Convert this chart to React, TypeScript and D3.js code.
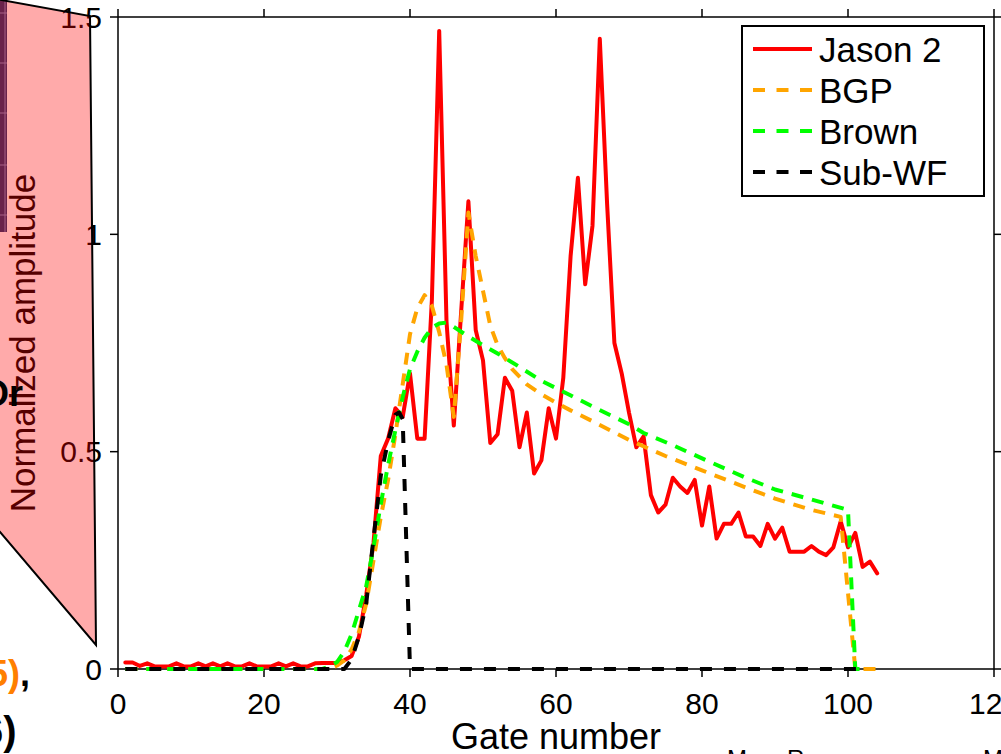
import React from "react";
import * as d3 from "d3";

// ---------- data ----------
const jasonGates = d3.range(1, 105);
const jasonValues = [
  0.015, 0.015, 0.007, 0.013, 0.006, 0.006, 0.006, 0.013, 0.006, 0.006,
  0.013, 0.006, 0.013, 0.006, 0.013, 0.006, 0.006, 0.013, 0.006, 0.006,
  0.006, 0.013, 0.006, 0.013, 0.006, 0.006, 0.013, 0.014, 0.014, 0.014,
  0.02, 0.03, 0.074, 0.17, 0.29, 0.49, 0.53, 0.6, 0.58, 0.68,
  0.53, 0.53, 0.85, 1.468, 0.8, 0.56, 0.82, 1.076, 0.78, 0.71,
  0.52, 0.54, 0.67, 0.64, 0.51, 0.59, 0.45, 0.48, 0.6, 0.53,
  0.67, 0.95, 1.13, 0.885, 1.02, 1.45, 1.07, 0.75, 0.68, 0.59,
  0.51, 0.535, 0.4, 0.36, 0.378, 0.44, 0.42, 0.405, 0.435, 0.33,
  0.42, 0.3, 0.334, 0.334, 0.36, 0.305, 0.305, 0.283, 0.334, 0.3,
  0.325, 0.27, 0.27, 0.27, 0.283, 0.27, 0.262, 0.28, 0.34, 0.28,
  0.313, 0.235, 0.247, 0.22,
];

const bgpGates = [1, 29, 30, 31, 32, 33, 34, 35, 36, 37, 38, 39, 40, 41, 42, 43, 44, 45, 46, 47, 48, 49, 50, 51, 52, 53, 54, 56, 58, 60, 62, 65, 70, 75, 80, 85, 90, 95, 99, 101, 103.8];
const bgpValues = [0, 0, 0.008, 0.02, 0.045, 0.085, 0.15, 0.25, 0.35, 0.435, 0.54, 0.655, 0.77, 0.83, 0.86, 0.835, 0.775, 0.7, 0.58, 0.8, 1.05, 0.95, 0.87, 0.79, 0.745, 0.715, 0.69, 0.655, 0.632, 0.613, 0.595, 0.57, 0.527, 0.49, 0.457, 0.424, 0.392, 0.366, 0.35, 0, 0];

const brownGates = [1, 28, 29, 30, 31, 32, 33, 34, 35, 36, 37, 38, 39, 40, 41, 42, 43, 44, 45, 46, 48, 50, 52, 55, 58, 61, 65, 70, 72, 76, 81, 86, 90, 95, 100, 101, 102.6];
const brownValues = [0, 0, 0.006, 0.016, 0.04, 0.08, 0.135, 0.19, 0.28, 0.38, 0.47, 0.55, 0.625, 0.69, 0.73, 0.762, 0.785, 0.795, 0.797, 0.787, 0.765, 0.745, 0.726, 0.695, 0.663, 0.638, 0.604, 0.563, 0.543, 0.515, 0.477, 0.44, 0.413, 0.39, 0.366, 0, 0];

const subGates = [1, 31, 32, 33, 34, 35, 36, 37, 38, 38.5, 39, 40, 102];
const subValues = [0, 0, 0.022, 0.074, 0.15, 0.3, 0.445, 0.525, 0.585, 0.59, 0.575, 0, 0];

const xTicks = [0, 20, 40, 60, 80, 100, 120];
const yTicks = [0, 0.5, 1, 1.5];
const yTickLabels = ["0", "0.5", "1", "1.5"];
const legendLabels = ["Jason 2", "BGP", "Brown", "Sub-WF"];

// ---------- layout ----------
const W = 1001;
const H = 754;
const L = 118, R = 994, T = 17, B = 669;
const FONT = "'Liberation Sans', Arial, Helvetica, sans-serif";

const x = d3.scaleLinear().domain([0, 120]).range([L, R]);
const y = d3.scaleLinear().domain([0, 1.5]).range([B, T]);

const line = d3
  .line<[number, number]>()
  .x((d) => x(d[0]))
  .y((d) => y(d[1]));

const zip = (g: number[], v: number[]) => g.map((d, i) => [d, v[i]] as [number, number]);

const series = [
  { name: legendLabels[0], color: "#ff0000", dash: "none", pts: zip(jasonGates, jasonValues) },
  { name: legendLabels[1], color: "#ffa500", dash: "12,9", pts: zip(bgpGates, bgpValues) },
  { name: legendLabels[2], color: "#00ff00", dash: "12,9", pts: zip(brownGates, brownValues) },
  { name: legendLabels[3], color: "#000000", dash: "12,12", pts: zip(subGates, subValues) },
];

export default function App() {
  const tick = 8;
  return (
    <svg
      width={W}
      height={H}
      viewBox={`0 0 ${W} ${H}`}
      style={{ position: "absolute", left: 0, top: 0, background: "#fff", overflow: "hidden" }}
      fontFamily={FONT}
    >
      <rect x={0} y={0} width={W} height={H} fill="#fff" />

      {/* dark strip of a neighbouring picture */}
      <rect x={0} y={0} width={7} height={232} fill="#1e3470" />
      {[13, 63, 113, 165, 215].map((gy) => (
        <line key={gy} x1={0} x2={7} y1={gy} y2={gy} stroke="#7d90c8" strokeWidth={1} />
      ))}
      <line x1={5} x2={5} y1={0} y2={232} stroke="#7d90c8" strokeWidth={1} />

      {/* frame */}
      <g stroke="#000" strokeWidth={1.5} fill="none">
        <line x1={L} x2={R} y1={B} y2={B} />
        <line x1={L} x2={R} y1={T} y2={T} />
        <line x1={L} x2={L} y1={T} y2={B} />
        <line x1={R} x2={R} y1={T} y2={B} />
        {xTicks.map((t) => (
          <g key={"xt" + t}>
            <line x1={x(t)} x2={x(t)} y1={B} y2={B + tick} />
            <line x1={x(t)} x2={x(t)} y1={T} y2={T - tick} />
          </g>
        ))}
        {yTicks.map((t) => (
          <g key={"yt" + t}>
            <line x1={L - tick} x2={L} y1={y(t)} y2={y(t)} />
            <line x1={R} x2={R + tick} y1={y(t)} y2={y(t)} />
          </g>
        ))}
      </g>

      {/* tick labels */}
      <g fontSize={30} fill="#000">
        {xTicks.map((t) => (
          <text key={"xl" + t} x={x(t)} y={714} textAnchor="middle">
            {t}
          </text>
        ))}
        {yTicks.map((t, i) => (
          <text key={"yl" + t} x={102} y={y(t) + 10.7} textAnchor="end">
            {yTickLabels[i]}
          </text>
        ))}
      </g>

      {/* axis labels */}
      <text x={(L + R) / 2} y={749} textAnchor="middle" fontSize={36} fill="#000">
        Gate number
      </text>
      <text
        transform={`translate(35,${(T + B) / 2}) rotate(-90)`}
        textAnchor="middle"
        fontSize={35}
        fill="#000"
      >
        Normalized amplitude
      </text>

      {/* series */}
      {series.map((s) => (
        <path
          key={s.name}
          d={line(s.pts) || ""}
          fill="none"
          stroke={s.color}
          strokeWidth={4}
          strokeDasharray={s.dash}
          strokeLinejoin="round"
          strokeLinecap={s.dash === "none" ? "round" : "butt"}
        />
      ))}

      {/* legend */}
      <rect x={742} y={26} width={242} height={170} fill="#fff" stroke="#000" strokeWidth={2} />
      {series.map((s, i) => {
        const ry = 49 + i * 41;
        return (
          <g key={"lg" + s.name}>
            <line
              x1={753}
              x2={812}
              y1={ry}
              y2={ry}
              stroke={s.color}
              strokeWidth={4}
              strokeDasharray={s.dash === "none" ? "none" : "12,11.5"}
            />
            <text x={819} y={ry + 12.5} fontSize={35} fill="#000">
              {s.name}
            </text>
          </g>
        );
      })}

      {/* translucent overlay shape */}
      <polygon
        points="-10,-2 90,16 96,645 0,532 -10,522"
        fill="#ff0000"
        fillOpacity={0.333}
        stroke="#000"
        strokeWidth={2}
      />

      {/* fragments of surrounding page text */}
      <text x={-19} y={406} fontSize={36} fontWeight="bold" fill="#000">
        Or
      </text>
      <text x={-12} y={686} fontSize={36} fontWeight="bold">
        <tspan fill="#ff7f00">5)</tspan>
        <tspan fill="#000">,</tspan>
      </text>
      <text x={-19} y={745} fontSize={40} fontWeight="bold" fill="#000">
        6)
      </text>
      <g fontSize={24} fill="#000">
        <text x={727} y={767}>M.</text>
        <text x={787} y={767}>Ramos</text>
        <text x={983} y={767}>M</text>
      </g>
    </svg>
  );
}
